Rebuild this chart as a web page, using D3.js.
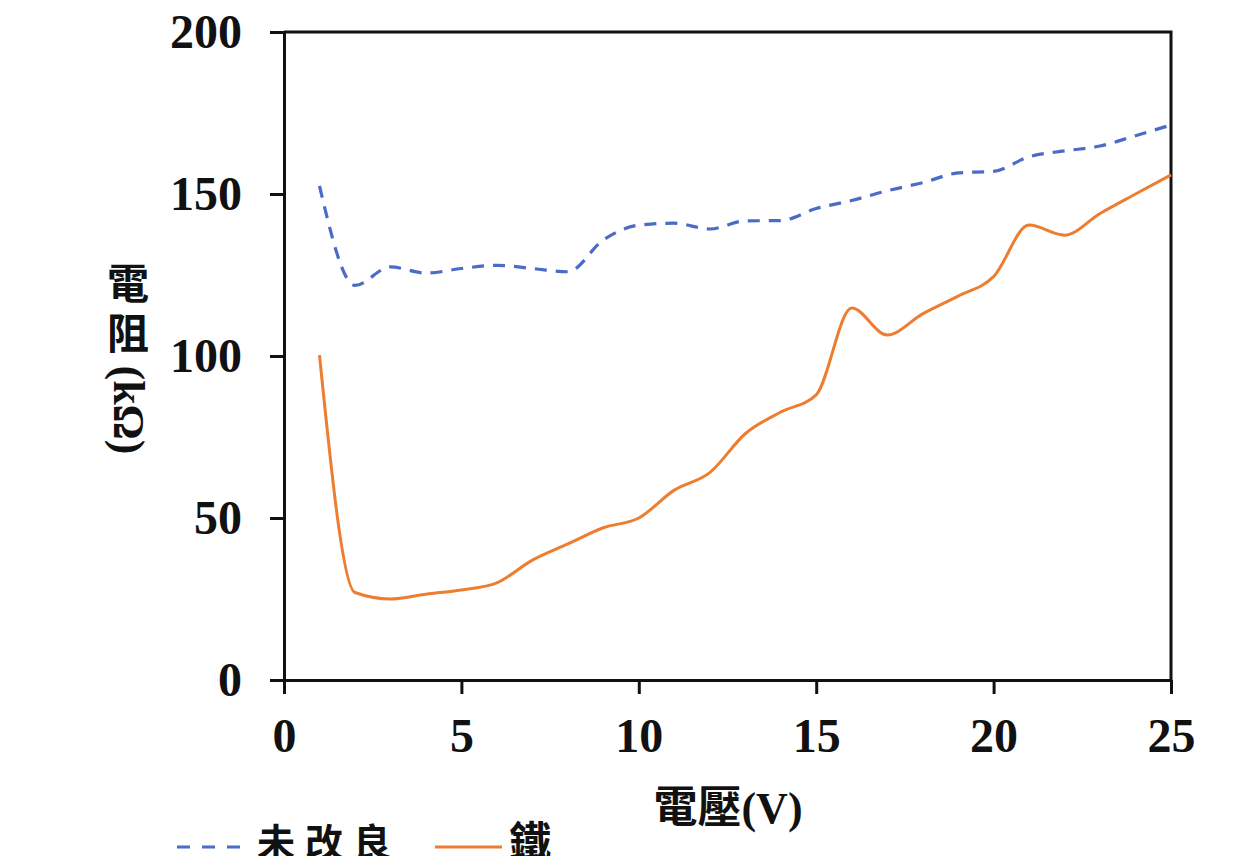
<!DOCTYPE html>
<html>
<head>
<meta charset="utf-8">
<script src="https://cdn.jsdelivr.net/npm/d3@7"></script>
<style>
  html, body { margin: 0; padding: 0; background: #fff; }
  svg { display: block; }
</style>
</head>
<body>
<svg id="chart" width="1259" height="856"></svg>
<script>
// Voltage (V) sample points
const voltages = [1, 2, 3, 4, 5, 6, 7, 8, 9, 10, 11, 12, 13, 14, 15, 16, 17, 18, 19, 20, 21, 22, 23, 24, 25];
// Resistance (kΩ), unmodified sample
const unmodified = [152.5, 121.8, 127.5, 125.6, 127, 128, 127, 126, 135.8, 140.4, 141, 139.2, 141.7, 141.8, 145.5, 148, 151, 153.5, 156.5, 157, 161.5, 163.3, 164.8, 168, 171.3];
// Resistance (kΩ), iron sample
const iron = [100.3, 27, 25, 26.5, 27.8, 30, 37, 42, 47, 50, 58.6, 64, 76, 82.7, 88, 114.8, 106.5, 113, 118.5, 124.5, 140.4, 137.3, 144, 150, 155.9];

const xTicks = [0, 5, 10, 15, 20, 25];
const yTicks = [0, 50, 100, 150, 200];
const seriesNames = ["未改良", "鐵"];

const svg = d3.select("#chart");
const plotL = 284, plotR = 1171, plotT = 32, plotB = 680;

const x = d3.scaleLinear().domain([0, 25]).range([plotL, plotR]);
const y = d3.scaleLinear().domain([0, 200]).range([plotB, plotT]);

const serif = "'Liberation Serif', 'Times New Roman', 'Noto Sans CJK TC', serif";
const cjk = "'Liberation Serif', 'Noto Sans CJK TC', serif";

// Frame: top and right borders
svg.append("path")
  .attr("d", `M${plotL},${plotT}H${plotR}V${plotB}`)
  .attr("fill", "none").attr("stroke", "#111").attr("stroke-width", 3);

// Y axis
const yAxis = svg.append("g")
  .attr("transform", `translate(${plotL},0)`)
  .call(d3.axisLeft(y).tickValues(yTicks).tickSize(14).tickPadding(28).tickSizeOuter(0));
// X axis
const xAxis = svg.append("g")
  .attr("transform", `translate(0,${plotB})`)
  .call(d3.axisBottom(x).tickValues(xTicks).tickSize(14).tickPadding(24).tickSizeOuter(0));

[yAxis, xAxis].forEach(g => {
  g.select(".domain").attr("stroke", "#111").attr("stroke-width", 3);
  g.selectAll(".tick line").attr("stroke", "#111").attr("stroke-width", 3);
  g.selectAll(".tick text")
    .attr("fill", "#111")
    .style("font-family", serif)
    .style("font-weight", "bold")
    .style("font-size", "48px");
});
xAxis.selectAll(".tick text").attr("dy", "0.71em");

// Series lines, smoothed through each measured point
const line = d3.line()
  .x((d, i) => x(voltages[i]))
  .y(d => y(d))
  .curve(d3.curveMonotoneX);

svg.append("path")
  .datum(unmodified)
  .attr("d", line)
  .attr("fill", "none")
  .attr("stroke", "#4a6bc6")
  .attr("stroke-width", 3.2)
  .attr("stroke-dasharray", "12,9");

svg.append("path")
  .datum(iron)
  .attr("d", line)
  .attr("fill", "none")
  .attr("stroke", "#ed7d31")
  .attr("stroke-width", 3);

// X axis title
svg.append("text")
  .attr("x", 728).attr("y", 808)
  .attr("text-anchor", "middle")
  .attr("dominant-baseline", "central")
  .style("font-family", cjk)
  .style("font-weight", "bold")
  .style("font-size", "44px")
  .attr("fill", "#111")
  .text("電壓(V)");

// Y axis title: upright CJK characters stacked, unit turned sideways
const yt = svg.append("g").attr("fill", "#111")
  .style("font-family", cjk).style("font-weight", "bold");
["電", "阻"].forEach((ch, i) => {
  yt.append("text")
    .attr("x", 128).attr("y", 285 + i * 50)
    .attr("text-anchor", "middle")
    .attr("dominant-baseline", "central")
    .style("font-size", "42px")
    .text(ch);
});
yt.append("text")
  .attr("transform", "translate(128,410) rotate(90)")
  .attr("text-anchor", "middle")
  .attr("dominant-baseline", "central")
  .style("font-size", "44px")
  .text("(kΩ)");

// Legend
const legend = svg.append("g");
legend.append("line")
  .attr("x1", 177).attr("x2", 243).attr("y1", 847).attr("y2", 847)
  .attr("stroke", "#4a6bc6").attr("stroke-width", 3.2)
  .attr("stroke-dasharray", "13,12");
legend.append("text")
  .attr("x", 257).attr("y", 843)
  .attr("dominant-baseline", "central")
  .style("font-family", cjk).style("font-weight", "bold")
  .style("font-size", "38px").style("letter-spacing", "10px")
  .attr("fill", "#111")
  .text(seriesNames[0]);
legend.append("line")
  .attr("x1", 435).attr("x2", 502).attr("y1", 847).attr("y2", 847)
  .attr("stroke", "#ed7d31").attr("stroke-width", 3);
legend.append("text")
  .attr("x", 509).attr("y", 843)
  .attr("dominant-baseline", "central")
  .style("font-family", cjk).style("font-weight", "bold")
  .style("font-size", "42px")
  .attr("fill", "#111")
  .text(seriesNames[1]);
</script>
</body>
</html>
